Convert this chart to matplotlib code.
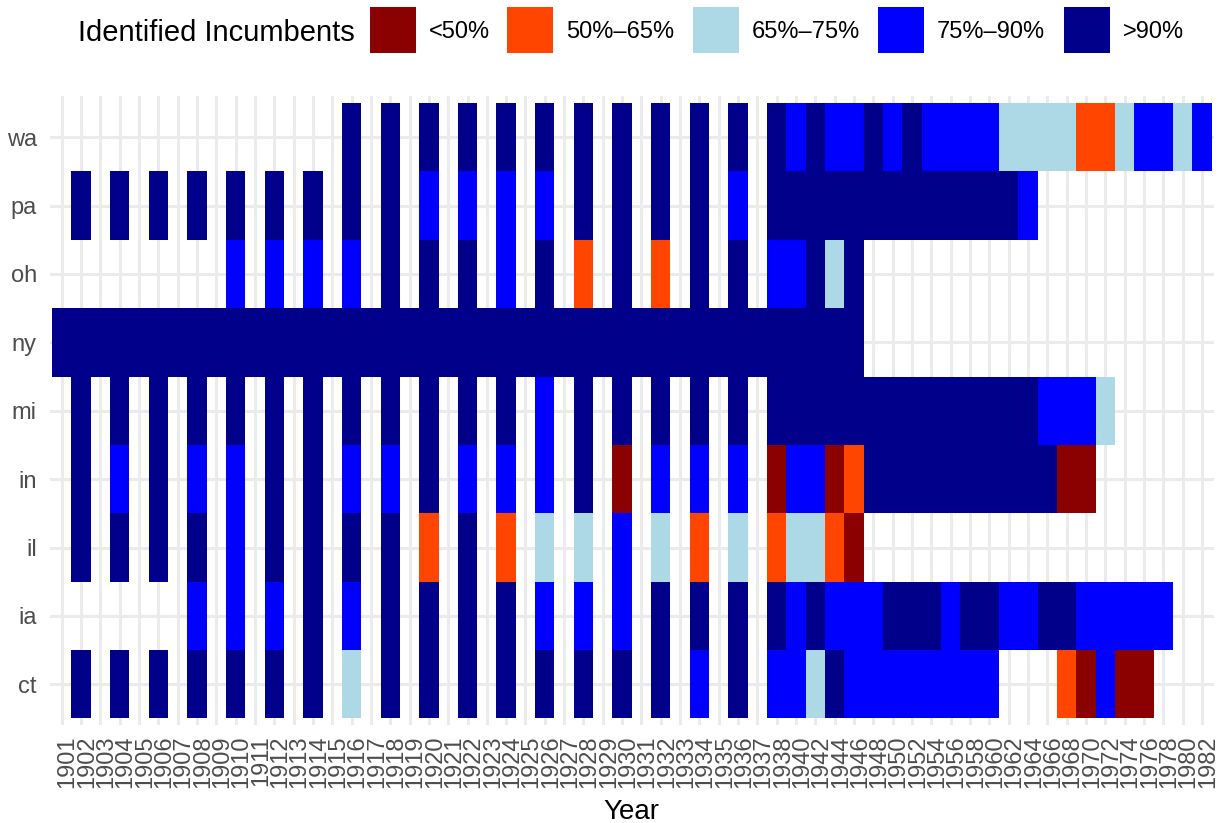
import numpy as np
import matplotlib
matplotlib.use('Agg')
import matplotlib.pyplot as plt
import matplotlib.transforms as mtransforms
from matplotlib.colors import ListedColormap, BoundaryNorm
from matplotlib.patches import Rectangle

plt.rcParams['font.family'] = ['Liberation Sans', 'DejaVu Sans']

# --- categories ---
years = list(range(1901, 1939)) + list(range(1940, 1983, 2))
even_years = list(range(1902, 1983, 2))
states = ['ct', 'ia', 'il', 'in', 'mi', 'ny', 'oh', 'pa', 'wa']
levels = ['<50%', '50%–65%', '65%–75%', '75%–90%', '>90%']
level_colors = ['#8B0000', '#FF4500', '#ADD8E6', '#0000FF', '#00008B']

# --- share of identified incumbents, coded 1..5 (0 = no election), aligned with even_years ---
ct = [5, 5, 5, 5, 5, 5, 5, 3, 5, 5, 5, 5, 5, 5, 5, 5, 4, 5,
      4, 4, 3, 5, 4, 4, 4, 4, 4, 4, 4, 4, 0, 0, 0, 2, 1, 4, 1, 1, 0, 0, 0]
ia = [0, 0, 0, 4, 4, 4, 5, 4, 5, 5, 5, 5, 4, 4, 4, 5, 5, 5,
      5, 4, 5, 4, 4, 4, 5, 5, 5, 4, 5, 5, 4, 4, 5, 5, 4, 4, 4, 4, 4, 0, 0]
il = [5, 5, 5, 5, 4, 5, 5, 5, 5, 2, 5, 2, 3, 3, 4, 3, 2, 3,
      2, 3, 3, 2, 1, 0, 0, 0, 0, 0, 0, 0, 0, 0, 0, 0, 0, 0, 0, 0, 0, 0, 0]
in_ = [5, 4, 5, 4, 4, 5, 5, 4, 4, 5, 4, 4, 4, 5, 1, 4, 4, 4,
       1, 4, 4, 1, 2, 5, 5, 5, 5, 5, 5, 5, 5, 5, 5, 1, 1, 0, 0, 0, 0, 0, 0]
mi = [5, 5, 5, 5, 5, 5, 5, 5, 5, 5, 5, 5, 4, 5, 5, 5, 5, 5,
      5, 5, 5, 5, 5, 5, 5, 5, 5, 5, 5, 5, 5, 5, 4, 4, 4, 3, 0, 0, 0, 0, 0]
oh = [0, 0, 0, 0, 4, 4, 4, 4, 5, 5, 5, 4, 5, 2, 5, 2, 5, 5,
      4, 4, 5, 3, 5, 0, 0, 0, 0, 0, 0, 0, 0, 0, 0, 0, 0, 0, 0, 0, 0, 0, 0]
pa = [5, 5, 5, 5, 5, 5, 5, 5, 5, 4, 4, 4, 4, 5, 5, 5, 5, 4,
      5, 5, 5, 5, 5, 5, 5, 5, 5, 5, 5, 5, 5, 4, 0, 0, 0, 0, 0, 0, 0, 0, 0]
wa = [0, 0, 0, 0, 0, 0, 0, 5, 5, 5, 5, 5, 5, 5, 5, 5, 5, 5,
      5, 4, 5, 4, 4, 5, 4, 5, 4, 4, 4, 4, 3, 3, 3, 3, 2, 2, 3, 4, 4, 3, 4]

# ny held elections every year up to 1938
ny_years = list(range(1901, 1939)) + [1940, 1942, 1944, 1946]
ny = [5, 5, 5, 5, 5, 5, 5, 5, 5, 5, 5, 5, 5, 5, 5, 5, 5, 5, 5, 5, 5,
      5, 5, 5, 5, 5, 5, 5, 5, 5, 5, 5, 5, 5, 5, 5, 5, 5, 5, 5, 5, 5]

series = {'ct': (even_years, ct), 'ia': (even_years, ia), 'il': (even_years, il),
          'in': (even_years, in_), 'mi': (even_years, mi), 'ny': (ny_years, ny),
          'oh': (even_years, oh), 'pa': (even_years, pa), 'wa': (even_years, wa)}

# --- grid of cells ---
col_of = {y: i for i, y in enumerate(years)}
grid = np.full((len(states), len(years)), np.nan)
for r, s in enumerate(states):
    yrs, vals = series[s]
    for y, v in zip(yrs, vals):
        if v:
            grid[r, col_of[y]] = v

W, H = 1225, 823
fig = plt.figure(figsize=(W / 100, H / 100), dpi=100)
ax = fig.add_axes([50 / W, 1 - 725.3 / H, 1163.6 / W, 629.1 / H])

cmap = ListedColormap(level_colors)
norm = BoundaryNorm(np.arange(0.5, 6.5, 1), cmap.N)
ax.pcolormesh(np.arange(-0.5, len(years)), np.arange(-0.5, len(states)),
              np.ma.masked_invalid(grid), cmap=cmap, norm=norm, zorder=2)

ax.set_xlim(-0.6, len(years) - 0.4)
ax.set_ylim(-0.6, len(states) - 0.4)
ax.set_xticks(range(len(years)))
ax.set_xticklabels([str(y) for y in years], rotation=90, fontsize=17, color='#4D4D4D')
ax.set_yticks(range(len(states)))
ax.set_yticklabels(states, fontsize=17, color='#4D4D4D')
ax.tick_params(axis='x', length=0, pad=7)
ax.tick_params(axis='y', length=0, pad=9.5)
shift = mtransforms.ScaledTranslation(6 / 100, 0, fig.dpi_scale_trans)
for lbl in ax.get_xticklabels():
    lbl.set_transform(lbl.get_transform() + shift)

ax.grid(True, color='#EBEBEB', linewidth=2.2)
ax.set_axisbelow(True)
for sp in ax.spines.values():
    sp.set_visible(False)

fig.text(631.7 / W, 1 - 819 / H, 'Year', ha='center', va='baseline', fontsize=20)

# --- legend on top ---
fig.text(78 / W, 1 - 41 / H, 'Identified Incumbents', ha='left', va='baseline', fontsize=21)
key_left = [370, 507, 693, 878, 1064]
for x0, lab, c in zip(key_left, levels, level_colors):
    fig.patches.append(Rectangle((x0 / W, 1 - 53 / H), 46 / W, 46 / H,
                                 transform=fig.transFigure, facecolor=c, edgecolor='none'))
    fig.text((x0 + 59) / W, 1 - 38.5 / H, lab, ha='left', va='baseline', fontsize=17)

fig.savefig('out.png', dpi=100)
